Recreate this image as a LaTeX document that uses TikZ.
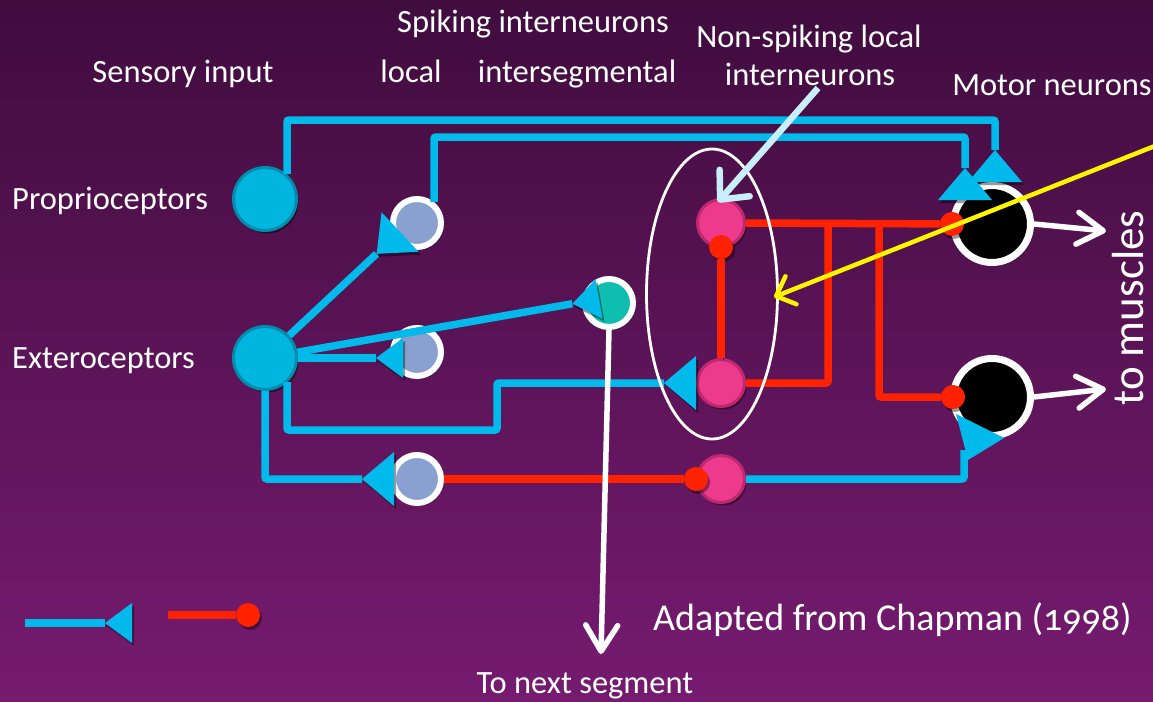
\documentclass[tikz,border=0pt]{standalone}
\usepackage{fontspec}
\setmainfont{Carlito}[Numbers=OldStyle]
\usetikzlibrary{arrows.meta,calc,shadows,shapes.geometric}
\definecolor{bgtop}{RGB}{64,12,62}
\definecolor{bgbot}{RGB}{118,27,112}
\definecolor{cyanc}{RGB}{0,186,236}
\definecolor{sensf}{RGB}{0,182,222}
\definecolor{sensb}{RGB}{0,140,172}
\definecolor{spkf}{RGB}{138,160,208}
\definecolor{tealf}{RGB}{16,190,176}
\definecolor{pinkf}{RGB}{238,58,140}
\definecolor{pinkb}{RGB}{190,40,110}
\definecolor{redc}{RGB}{255,34,0}
\definecolor{lblue}{RGB}{200,238,250}
\definecolor{yell}{RGB}{255,245,0}
\begin{document}
\begin{tikzpicture}[x=1pt,y=-1pt,
  lab/.style={text=white,inner sep=0pt,font=\fontsize{32.5}{36}\selectfont},
  shad/.style={drop shadow={shadow xshift=2pt,shadow yshift=-3pt,opacity=.45,fill=black}},
  sensn/.style={circle,draw=sensb,fill=sensf,line width=3pt,minimum size=63pt,inner sep=0pt,shad},
  spk/.style={circle,draw=white,line width=6pt,minimum size=48pt,inner sep=0pt,shad},
  pinkn/.style={circle,draw=pinkb,fill=pinkf,line width=3pt,minimum size=47pt,inner sep=0pt,shad},
  motn/.style={circle,draw=white,fill=black,line width=7pt,minimum size=77pt,inner sep=0pt,shad},
  lsh/.style={preaction={draw=black,opacity=.4,transform canvas={shift={(2pt,-3pt)}}}},
  cyl/.style={draw=cyanc,line width=7.5pt,rounded corners=2pt,lsh},
  exc/.style={cyl,-{Triangle[reversed,length=32pt,width=54pt,line width=0pt]}},
  excs/.style={cyl,-{Triangle[reversed,length=27pt,width=40pt,line width=0pt]}},
  rdl/.style={draw=redc,line width=7.5pt,rounded corners=2pt,lsh},
  inh/.style={rdl,-{Circle[length=24pt,line width=0pt]}},
  warr/.style={draw=white,line width=5.5pt,-{Straight Barb[length=26pt,width=32pt,round]}}
]
\shade[top color=bgtop,bottom color=bgbot] (0,0) rectangle (1153,701);
\useasboundingbox (0,0) rectangle (1153,701);

% nodes
\node[sensn] (prop) at (265,199) {};
\node[sensn] (ext) at (265,358) {};
\node[spk,fill=spkf] (l1) at (417,223) {};
\node[spk,fill=spkf] (l2) at (417,352) {};
\node[spk,fill=spkf] (l3) at (417,479) {};
\node[spk,fill=tealf] (is) at (609,303) {};
\node[pinkn] (p1) at (721,223) {};
\node[pinkn] (p2) at (721,383) {};
\node[pinkn] (p3) at (721,479) {};
\node[motn] (m1) at (992,224) {};
\node[motn] (m2) at (992,397) {};

% coordinates
\coordinate (c1) at (995,120);
\coordinate (c2) at (965,137);
\coordinate (e1) at (400,232);
\coordinate (e2) at (599,299);
\coordinate (e3) at (403,358);
\coordinate (e4) at (497,430);
\coordinate (j1) at (828,223);
\coordinate (j2) at (879,223);
\coordinate (m2t) at (964,450);
\coordinate (w1) at (1106,231);
\coordinate (w2) at (1106,389);
\coordinate (w3) at (601,654);
\coordinate (lbs) at (818,88);
\coordinate (lbe) at (718,202);
\coordinate (ys) at (1170,140);
\coordinate (ye) at (774,297);
\coordinate (lg1) at (25,623);
\coordinate (lg2) at (132,623);
\coordinate (lr1) at (168,615);
\coordinate (lr2) at (260,615);

% excitatory (cyan) connections
\draw[exc] ([xshift=22pt,yshift=25pt]prop.center) |- (c1) -- ([xshift=3pt]m1.north);
\draw[exc] ([xshift=17pt,yshift=21pt]l1.center) |- (c2) -- ([xshift=-27pt,yshift=24pt]m1.center);
\draw[exc] (ext) -- (e1);
\draw[excs] (ext) -- (e2);
\draw[excs] (ext.east) -- (e3);
\draw[exc] ([xshift=22pt,yshift=-24pt]ext.center) |- (e4) |- (p2.west);
\draw[exc] (ext.south) |- ([xshift=-23pt]l3.center);
\draw[cyl] (p3.east) -| (m2t);
\fill[cyanc] (956,414) -- (1004,438) -- (968,460) -- cycle;

% inhibitory (red) connections
\draw[inh] (p1.east) -- ([xshift=14pt]m1.west);
\draw[rdl] (p2.east) -| (j1);
\draw[inh] (j2) |- ([xshift=15pt]m2.west);
\draw[inh] (p2.north) -- ([yshift=13pt]p1.south);
\draw[inh] (l3.east) -- ([xshift=12pt]p3.west);

% group ellipse
\node[ellipse,draw=white,line width=2.8pt,minimum width=131pt,minimum height=290pt,inner sep=0pt] (grp) at (712,294) {};

% outputs
\draw[warr] (is.south) -- (w3);
\draw[warr] (m1.east) -- (w1);
\draw[warr] (m2.east) -- (w2);

% pointer arrows
\draw[lblue,line width=6.5pt,-{Straight Barb[length=22pt,width=40pt,round]}] (lbs) -- (lbe);
\draw[yell,line width=4.5pt,-{Straight Barb[length=16pt,width=30pt,round]}] (ys) -- (ye);

% legend
\draw[excs] (lg1) -- (lg2);
\draw[inh] (lr1) -- (lr2);

% labels
\node[lab,anchor=base] (tsens) at (183,82) {Sensory input};
\node[lab,anchor=base] (tspk) at (533,33) {Spiking interneurons};
\node[lab,anchor=base] (tloc) at (411,82) {local};
\node[lab,anchor=base] (tint) at (577,82) {intersegmental};
\node[lab,anchor=base] (tns1) at (809,48) {Non-spiking local};
\node[lab,anchor=base] (tns2) at (810,85) {interneurons};
\node[lab,anchor=base] (tmot) at (1052,95) {Motor neurons};
\node[lab,anchor=base west] (tpro) at (12,209) {Proprioceptors};
\node[lab,anchor=base west] (text) at (12,368) {Exteroceptors};
\node[lab,anchor=base] (tnext) at (585,693) {To next segment};
\node[lab,anchor=base west,font=\fontsize{38}{44}\selectfont] (tad) at (653,630) {Adapted from Chapman (1998)};
\node[lab,anchor=base,rotate=90,font=\fontsize{45}{50}\selectfont] (tmus) at (1143,308) {to muscles};
\end{tikzpicture}
\end{document}
